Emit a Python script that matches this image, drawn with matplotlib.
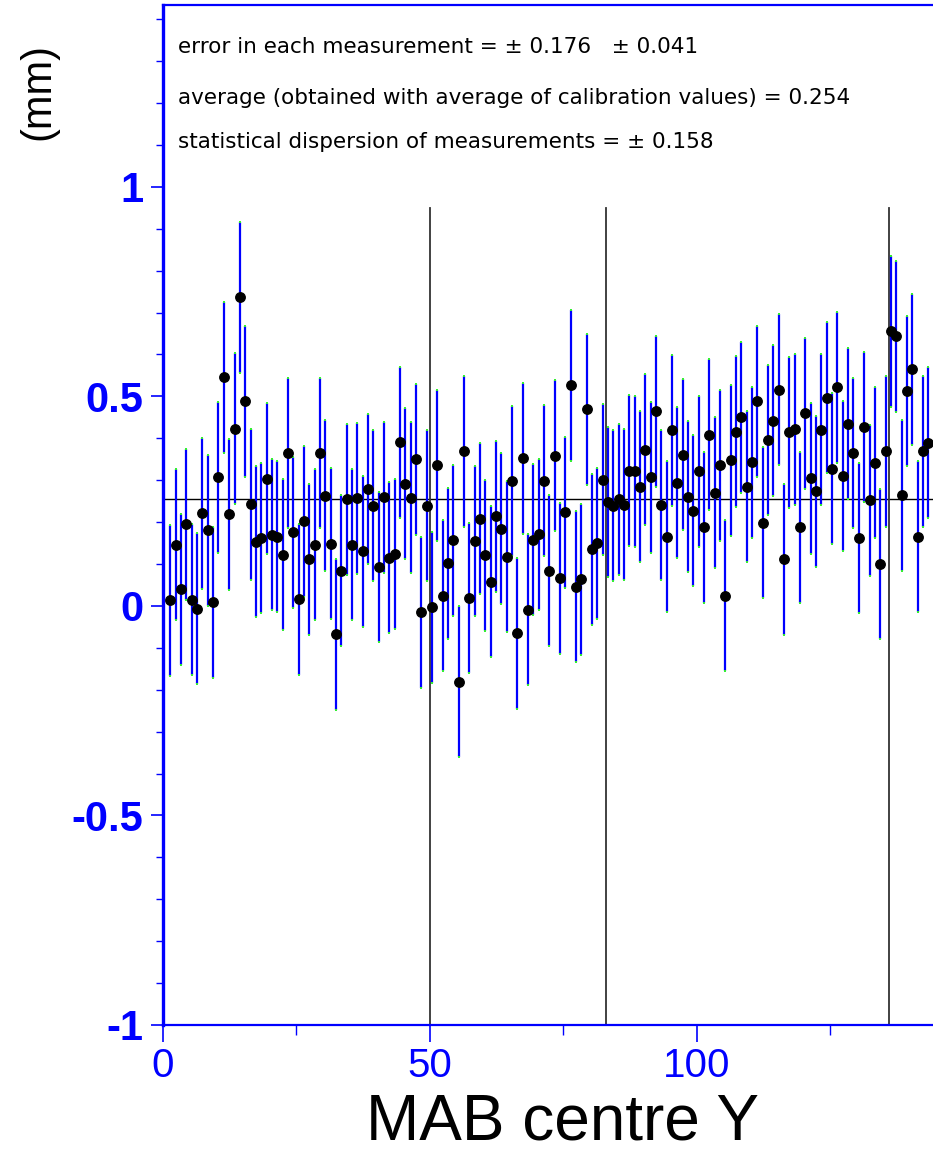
import numpy as np
import matplotlib
matplotlib.use("Agg")
import matplotlib.pyplot as plt
from matplotlib.ticker import MultipleLocator, FixedLocator

values = [
    0.013, 0.146, 0.040, 0.195, 0.015, -0.007, 0.221, 0.181, 0.009, 0.307,
    0.546, 0.219, 0.423, 0.737, 0.488, 0.243, 0.153, 0.162, 0.304, 0.170,
    0.165, 0.122, 0.365, 0.176, 0.016, 0.202, 0.111, 0.146, 0.365, 0.263,
    0.148, -0.068, 0.084, 0.254, 0.146, 0.257, 0.130, 0.279, 0.239, 0.093,
    0.259, 0.115, 0.124, 0.391, 0.292, 0.258, 0.350, -0.015, 0.239, -0.003,
    0.336, 0.024, 0.102, 0.157, -0.181, 0.369, 0.019, 0.155, 0.208, 0.121,
    0.058, 0.214, 0.184, 0.117, 0.298, -0.065, 0.352, -0.009, 0.158, 0.171,
    0.299, 0.084, 0.358, 0.066, 0.223, 0.527, 0.046, 0.064, 0.469, 0.135,
    0.150, 0.301, 0.248, 0.239, 0.254, 0.242, 0.323, 0.321, 0.285, 0.373,
    0.307, 0.465, 0.241, 0.165, 0.419, 0.294, 0.361, 0.261, 0.227, 0.321,
    0.188, 0.409, 0.270, 0.336, 0.024, 0.348, 0.416, 0.450, 0.285, 0.343,
    0.488, 0.199, 0.396, 0.442, 0.516, 0.111, 0.414, 0.422, 0.188, 0.460,
    0.305, 0.274, 0.420, 0.497, 0.327, 0.522, 0.310, 0.435, 0.365, 0.162,
    0.427, 0.252, 0.342, 0.100, 0.369, 0.655, 0.643, 0.264, 0.513, 0.565,
    0.165, 0.369, 0.389,
]
positions = np.arange(1, len(values) + 1) + 0.4
error = 0.18
average = 0.254
vlines = [50, 83, 136]

text_lines = [
    "error in each measurement = \u00b1 0.176   \u00b1 0.041",
    "average (obtained with average of calibration values) = 0.254",
    "statistical dispersion of measurements = \u00b1 0.158",
]

blue = "#0000ff"
y = np.array(values)

fig = plt.figure(figsize=(9.33, 11.58), dpi=100)
ax = fig.add_axes([163 / 933, 1 - 1025 / 1158, 1 - 163 / 933, (1025 - 5) / 1158])
ax.set_xlim(0, 144.3)
ax.set_ylim(-1, 1.434)

ax.axhline(average, color="black", lw=1.0, zorder=2)
for xv in vlines:
    ax.plot([xv, xv], [-1, 0.95], color="#333333", lw=1.3, zorder=2)

ax.errorbar(positions, y, yerr=error, fmt="none", ecolor=blue, elinewidth=1.6, zorder=3)
ax.scatter(positions, y + error, marker="s", s=3, color="#33ee33", lw=0, zorder=4)
ax.scatter(positions, y - error, marker="s", s=3, color="#33ee33", lw=0, zorder=4)
ax.plot(positions, y, "o", color="black", ms=6.8, zorder=5)

for side in ["left", "bottom", "top"]:
    ax.spines[side].set_color(blue)
ax.spines["left"].set_linewidth(2.4)
ax.spines["bottom"].set_linewidth(1.6)
ax.spines["top"].set_linewidth(1.6)
ax.spines["right"].set_visible(False)

ax.yaxis.set_major_locator(FixedLocator([-1, -0.5, 0, 0.5, 1]))
ax.yaxis.set_minor_locator(MultipleLocator(0.1))
ax.set_yticklabels(["-1", "-0.5", "0", "0.5", "1"])
ax.xaxis.set_major_locator(FixedLocator([0, 50, 100]))
ax.xaxis.set_minor_locator(FixedLocator([25, 75, 125]))

ax.tick_params(axis="y", which="major", direction="out", length=9, width=1.2,
               color=blue, labelcolor=blue, pad=5)
ax.tick_params(axis="y", which="minor", direction="out", length=5, width=1.0, color=blue)
ax.tick_params(axis="x", which="major", direction="out", length=12, width=1.2,
               color=blue, labelcolor=blue, pad=4)
ax.tick_params(axis="x", which="minor", direction="out", length=7, width=1.0, color=blue)
for lab in ax.get_yticklabels():
    lab.set_fontfamily("Liberation Sans")
    lab.set_fontweight("bold")
    lab.set_fontsize(30)
for lab in ax.get_xticklabels():
    lab.set_fontfamily("Liberation Sans")
    lab.set_fontsize(29)

for i, t in enumerate(text_lines):
    fig.text(178 / 933, 1 - [47, 98, 142][i] / 1158, t, fontsize=15.5, color="black",
             va="center", ha="left", family="DejaVu Sans")

fig.text(562 / 933, 1 - 1123 / 1158, "MAB centre Y", fontsize=46, family="Liberation Sans",
         ha="center", va="center")
fig.text(38 / 933, 1 - 92 / 1158, "(mm)", fontsize=30, family="Liberation Sans",
         rotation=90, ha="center", va="center")

fig.savefig("out.png", dpi=100)
